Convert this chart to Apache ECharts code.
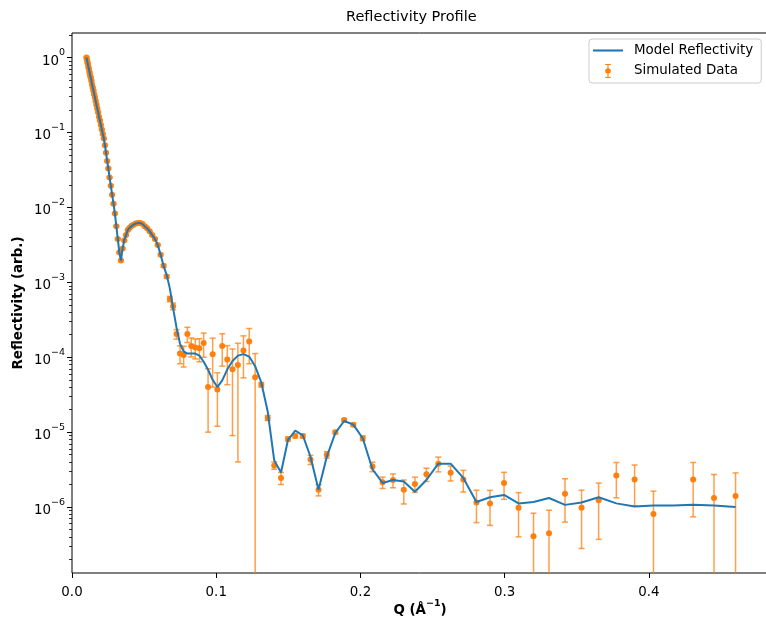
<!DOCTYPE html>
<html><head><meta charset="utf-8">
<script src="https://cdn.jsdelivr.net/npm/echarts@6/dist/echarts.min.js"></script>
<style>html,body{margin:0;padding:0;background:#fff}#c{width:766px;height:621px}</style>
</head><body><div id="c"></div>
<script>
const Q = [0.01000,0.010336,0.010682,0.011041,0.011411,0.011794,0.012190,0.012599,0.013022,0.013459,
0.013910,0.014377,0.014860,0.015358,0.015874,0.016406,0.016957,0.017526,0.018114,0.018722,
0.019340,0.019999,0.020670,0.021364,0.022081,0.022822,0.023588,0.024379,0.025197,0.026043,
0.026917,0.027820,0.028753,0.029718,0.030716,0.031746,0.032812,0.033913,0.035051,0.036227,
0.037442,0.038699,0.039997,0.041340,0.042727,0.044161,0.045642,0.047174,0.048757,0.050393,
0.052084,0.053832,0.055638,0.057505,0.059435,0.061429,0.063491,0.065621,0.067823,0.070099,
0.072451,0.074882,0.077395,0.079992,0.082677,0.085451,0.088318,0.091282,0.094345,0.097511,
0.100783,0.104165,0.107660,0.111273,0.115007,0.118866,0.122855,0.126977,0.131238,0.135642,
0.140194,0.144898,0.149760,0.154786,0.159980,0.165348,0.170897,0.176631,0.182558,0.188684,
0.195016,0.201560,0.208323,0.215314,0.222539,0.230007,0.237725,0.245702,0.253947,0.262469,
0.271276,0.280379,0.289788,0.299512,0.309563,0.319951,0.330688,0.341784,0.353253,0.365107,
0.377359,0.390022,0.403110,0.416637,0.430618,0.445068,0.460003];

const modelR = [1.0,0.933,0.871,0.813,0.741,0.692,0.631,0.575,0.537,0.490,
0.437,0.398,0.363,0.324,0.295,0.263,0.234,0.209,0.186,0.162,
0.145,0.126,0.110,0.0955,0.0832,0.0676,0.0537,0.0417,0.0331,0.0251,
0.0195,0.0148,0.0112,0.00832,0.00562,0.00380,0.00251,0.00195,0.00282,0.00363,
0.00427,0.00501,0.00537,0.00569,0.00589,0.00610,0.00617,0.00617,0.00603,0.00562,
0.00525,0.00479,0.00427,0.00380,0.00316,0.00234,0.00166,0.00126,8.3e-4,4.5e-4,
2.5e-4,1.51e-4,1.20e-4,1.12e-4,1.12e-4,1.12e-4,1.05e-4,8.7e-5,6.8e-5,5.0e-5,
4.0e-5,4.9e-5,6.9e-5,8.9e-5,1.05e-4,1.10e-4,1.02e-4,7.6e-5,4.6e-5,1.9e-5,
4.2e-6,2.9e-6,7.9e-6,1.05e-5,9.1e-6,4.7e-6,1.7e-6,4.7e-6,9.8e-6,1.41e-5,
1.26e-5,8.3e-6,3.2e-6,2.1e-6,2.3e-6,2.2e-6,1.6e-6,2.3e-6,3.8e-6,3.8e-6,
2.45e-6,1.17e-6,1.35e-6,1.45e-6,1.12e-6,1.17e-6,1.32e-6,1.07e-6,1.15e-6,1.35e-6,
1.12e-6,1.02e-6,1.05e-6,1.05e-6,1.07e-6,1.05e-6,1.0e-6];

const dataR = [1.0,0.933,0.871,0.813,0.741,0.692,0.631,0.575,0.537,0.490,
0.437,0.398,0.363,0.324,0.295,0.263,0.234,0.209,0.186,0.162,
0.145,0.126,0.110,0.0955,0.0832,0.0676,0.0537,0.0417,0.0331,0.0251,
0.0195,0.0148,0.0112,0.00832,0.00562,0.00380,0.00251,0.00195,0.00282,0.00363,
0.00427,0.00501,0.00537,0.00569,0.00589,0.00610,0.00617,0.00617,0.00603,0.00562,
0.00525,0.00479,0.00427,0.00380,0.00316,0.00234,0.00166,0.00120,6.0e-4,4.8e-4,
2.04e-4,1.12e-4,1.07e-4,2.04e-4,1.41e-4,1.35e-4,1.32e-4,1.55e-4,4.0e-5,1.10e-4,
3.7e-5,1.41e-4,9.3e-5,6.9e-5,7.9e-5,1.23e-4,1.62e-4,5.4e-5,4.3e-5,1.55e-5,
3.6e-6,2.45e-6,8.1e-6,8.9e-6,8.9e-6,4.3e-6,1.7e-6,5.0e-6,1.0e-5,1.45e-5,
1.26e-5,8.3e-6,3.47e-6,2.14e-6,2.29e-6,1.70e-6,2.04e-6,2.75e-6,3.8e-6,2.88e-6,
2.34e-6,1.15e-6,1.12e-6,2.09e-6,9.8e-7,4.07e-7,4.47e-7,1.51e-6,9.8e-7,1.23e-6,
2.63e-6,2.34e-6,8.1e-7,null,2.34e-6,1.32e-6,1.41e-6];

const dataErr = [0.025,0.023,0.022,0.020,0.019,0.017,0.016,0.014,0.013,0.012,
0.011,0.0099,0.0091,0.0081,0.0074,0.0066,0.0058,0.0052,0.0046,0.0040,
0.0036,0.0031,0.0027,0.0024,0.0021,0.0017,0.0013,0.0010,0.00083,0.00063,
0.00049,0.00037,0.00028,0.00021,0.00014,9.5e-5,6.3e-5,4.9e-5,7.0e-5,9.1e-5,
1.1e-4,1.3e-4,1.3e-4,1.4e-4,1.5e-4,1.5e-4,1.5e-4,1.5e-4,1.5e-4,1.4e-4,
1.3e-4,1.2e-4,1.1e-4,9.5e-5,7.9e-5,8e-5,7e-5,6e-5,5e-5,5e-5,
3e-5,3e-5,3.3e-5,4.7e-5,4.0e-5,4e-5,4.5e-5,5.5e-5,3e-5,7e-5,
2.5e-5,6.5e-5,5e-5,6e-5,7.5e-5,7e-5,8e-5,5.8e-5,3e-6,1.2e-6,
4e-7,4.5e-7,5e-7,5e-7,5e-7,6e-7,2.9e-7,5e-7,5e-7,6e-7,
6e-7,6e-7,5e-7,3.7e-7,4.8e-7,6e-7,4.7e-7,5.5e-7,8.5e-7,6.5e-7,
7.5e-7,5.3e-7,5.5e-7,8.2e-7,5.8e-7,4.2e-7,4.6e-7,8.8e-7,7e-7,8.6e-7,
1.3e-6,1.3e-6,8.2e-7,8e-7,1.6e-6,1.4e-6,1.45e-6];

const xTickValues = [0.0, 0.1, 0.2, 0.3, 0.4];
const yTickExponents = [-6, -5, -4, -3, -2, -1, 0];

const Y_MIN = -6.88, Y_MAX = 0.328;
const FONT = 'DejaVu Sans';
const lg = v => Math.log10(v);

const modelData = Q.map((q, i) => [q, lg(modelR[i])]);
const pointData = [];
const errData = [];
Q.forEach((q, i) => {
  const r = dataR[i];
  if (r == null || r <= 0) return;
  pointData.push([q, lg(r)]);
  const lo = r - dataErr[i];
  errData.push([q, lo > 0 ? lg(lo) : Y_MIN - 1, lg(r + dataErr[i]), lo > 0 ? 1 : 0]);
});

const minorTicks = [];
for (let n = -7; n <= 0; n++) for (let k = 2; k <= 9; k++) {
  const v = n + Math.log10(k);
  if (v >= Y_MIN && v <= Y_MAX) minorTicks.push(v);
}

const errIcon = 'path://M0,0h60v12h-60z M24,0h12v150h-12z M0,138h60v12h-60z M0,75a30,30 0 1,1 60,0a30,30 0 1,1 -60,0z';
const lineIcon = 'path://M0,0h300v21h-300z';

const chart = echarts.init(document.getElementById('c'), null, {renderer: 'canvas'});
chart.setOption({
  animation: false,
  backgroundColor: '#ffffff',
  title: {
    text: 'Reflectivity Profile', left: 346, top: 10, padding: 0,
    textStyle: {fontFamily: FONT, fontSize: 14.5, fontWeight: 'normal', color: '#000'}
  },
  legend: {
    orient: 'vertical', left: 589, top: 39, padding: [5, 8, 5, 4],
    itemWidth: 30, itemHeight: 14, itemGap: 7,
    backgroundColor: 'rgba(255,255,255,0.8)', borderColor: '#cccccc', borderWidth: 1, borderRadius: 3,
    textStyle: {fontFamily: FONT, fontSize: 13.4, color: '#000', padding: [0, 0, 0, 6]},
    data: [{name: 'Model Reflectivity', icon: lineIcon}, {name: 'Simulated Data', icon: errIcon}]
  },
  grid: {left: 72, top: 33, width: 696, height: 540, show: true, borderColor: '#000', borderWidth: 1,
    containLabel: false, outerBoundsMode: 'none'},
  xAxis: {
    type: 'value', min: 0, max: 0.4825, position: 'bottom',
    axisLine: {show: false, onZero: false}, splitLine: {show: false},
    axisTick: {customValues: xTickValues, length: 5, lineStyle: {color: '#000', width: 1}},
    axisLabel: {customValues: xTickValues, fontFamily: FONT, fontSize: 13.4, color: '#000', margin: 13,
      formatter: v => v.toFixed(1)},
    name: '{b|Q (Å}{s|−1}{b|)}', nameLocation: 'middle', nameGap: 26, nameMoveOverlap: false,
    nameTextStyle: {rich: {
      b: {fontFamily: FONT, fontSize: 13.4, fontWeight: 'bold', color: '#000', lineHeight: 18, verticalAlign: 'bottom'},
      s: {fontFamily: FONT, fontSize: 9.5, fontWeight: 'bold', color: '#000', lineHeight: 10, verticalAlign: 'top'}
    }}
  },
  yAxis: [{
    type: 'value', min: Y_MIN, max: Y_MAX,
    axisLine: {show: false, onZero: false}, splitLine: {show: false},
    axisTick: {customValues: yTickExponents, length: 5, lineStyle: {color: '#000', width: 1}},
    axisLabel: {customValues: yTickExponents, margin: 7,
      formatter: v => '{a|10}{b|' + (v < 0 ? '\u2212' + (-v) : String(v)) + '}',
      rich: {
        a: {fontFamily: FONT, fontSize: 13.4, color: '#000', lineHeight: 20, verticalAlign: 'bottom'},
        b: {fontFamily: FONT, fontSize: 9.5, color: '#000', lineHeight: 10, verticalAlign: 'top'}
      }},
    name: 'Reflectivity (arb.)', nameLocation: 'middle', nameGap: 47, nameMoveOverlap: false,
    nameTextStyle: {fontFamily: FONT, fontSize: 13.4, fontWeight: 'bold', color: '#000'}
  }, {
    type: 'value', min: Y_MIN, max: Y_MAX, position: 'left',
    axisLine: {show: false, onZero: false}, splitLine: {show: false}, axisLabel: {show: false},
    axisTick: {customValues: minorTicks, length: 3, lineStyle: {color: '#000', width: 0.8}}
  }],
  series: [{
    name: 'errbars', type: 'custom', z: 2,
    data: errData, encode: {x: 0, y: [1, 2]},
    renderItem: (params, api) => {
      const x = api.value(0);
      const hasLow = api.value(3) === 1;
      const lo = api.coord([x, hasLow ? api.value(1) : Y_MIN]);
      const hi = api.coord([x, api.value(2)]);
      const st = {stroke: 'rgba(255,127,14,0.75)', lineWidth: 1.5};
      const ch = [
        {type: 'line', shape: {x1: lo[0], y1: lo[1], x2: hi[0], y2: hi[1]}, style: st},
        {type: 'line', shape: {x1: hi[0] - 3, y1: hi[1], x2: hi[0] + 3, y2: hi[1]}, style: st}
      ];
      if (hasLow) ch.push({type: 'line', shape: {x1: lo[0] - 3, y1: lo[1], x2: lo[0] + 3, y2: lo[1]}, style: st});
      return {type: 'group', children: ch};
    }
  }, {
    name: 'Simulated Data', type: 'scatter', z: 3,
    data: pointData, symbol: 'circle', symbolSize: 6,
    itemStyle: {color: '#ff7f0e', opacity: 1}
  }, {
    name: 'Model Reflectivity', type: 'line', z: 4,
    data: modelData, showSymbol: false, symbol: 'none',
    lineStyle: {color: '#1f77b4', width: 2}, itemStyle: {color: '#1f77b4'}
  }]
});
</script>
</body></html>
